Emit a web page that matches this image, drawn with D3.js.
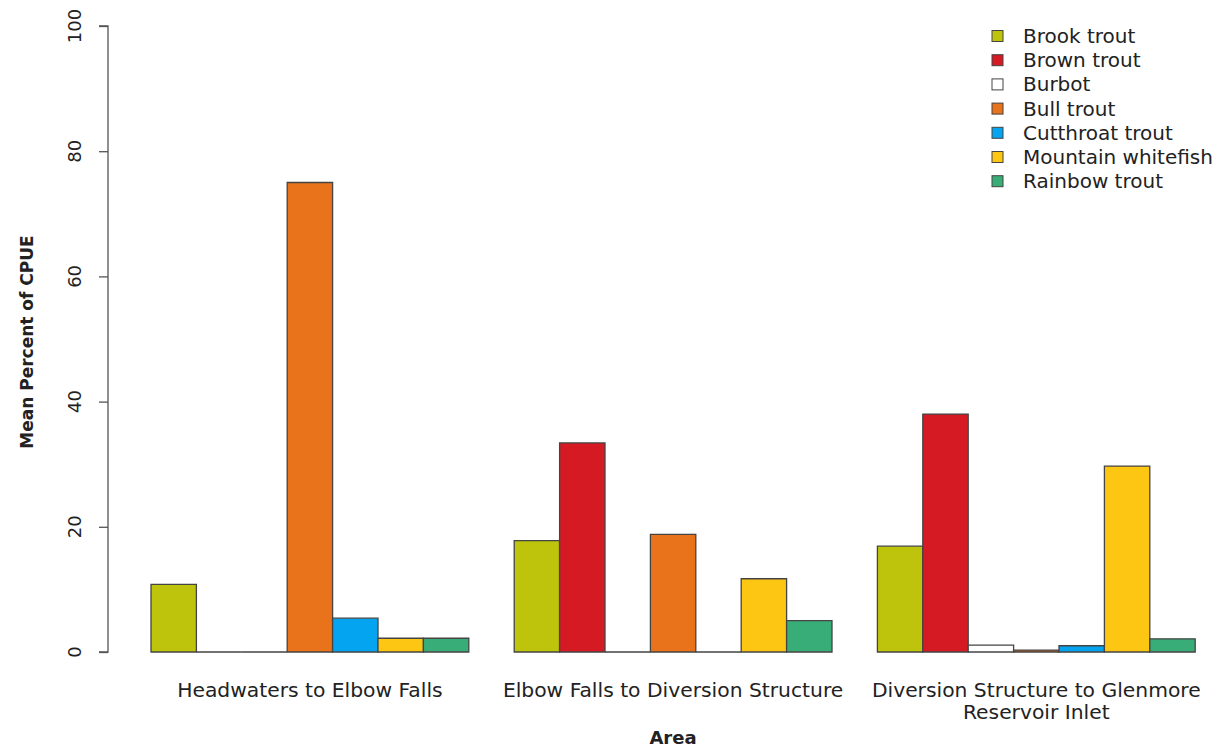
<!DOCTYPE html>
<html>
<head>
<meta charset="utf-8">
<script src="https://cdn.jsdelivr.net/npm/d3@7.9.0/dist/d3.min.js"></script>
<style>
  body { margin: 0; background: #fff; }
  svg { display: block; }
  text { font-family: "DejaVu Sans", sans-serif; fill: #222; }
</style>
</head>
<body>
<svg width="1221" height="749"></svg>
<script>
const areas = ["Headwaters to Elbow Falls", "Elbow Falls to Diversion Structure", "Diversion Structure to Glenmore\nReservoir Inlet"];
const species = ["Brook trout", "Brown trout", "Burbot", "Bull trout", "Cutthroat trout", "Mountain whitefish", "Rainbow trout"];
const colors = ["#bdc40b", "#d51a24", "#ffffff", "#e8731a", "#05a4f0", "#fcc612", "#38ad78"];
// mean percent of CPUE, one array per area, in species order
const headwaters = [10.8, 0, 0, 75, 5.4, 2.2, 2.2];
const elbowFalls = [17.8, 33.4, 0, 18.8, 0, 11.7, 5.0];
const diversion = [16.9, 38.0, 1.1, 0.3, 1.0, 29.7, 2.1];
const yTicks = [0, 20, 40, 60, 80, 100];

const values = [headwaters, elbowFalls, diversion];
const svg = d3.select("svg");

// R barplot beside=TRUE layout: one empty slot before each group
const slots = areas.length * (species.length + 1);
const x = d3.scaleLinear().domain([0, slots]).range([105.6, 105.6 + slots * 45.4]);
const y = d3.scaleLinear().domain([0, 100]).range([652, 26]);

values.forEach((vals, g) => {
  const start = g * (species.length + 1) + 1;
  vals.forEach((v, i) => {
    const x0 = x(start + i), x1 = x(start + i + 1);
    // path so that zero-height bars still show their outline
    svg.append("path")
      .attr("d", `M${x0},${y(0)}V${y(v)}H${x1}V${y(0)}Z`)
      .attr("fill", colors[i])
      .attr("stroke", "#444")
      .attr("stroke-width", 1.3);
  });
  const cx = (x(start) + x(start + species.length)) / 2;
  const lines = areas[g].split("\n");
  lines.forEach((t, k) => {
    svg.append("text")
      .attr("x", cx).attr("y", 697 + k * 22)
      .attr("text-anchor", "middle")
      .attr("font-size", 20.3)
      .text(t);
  });
});

// y axis
const axis = svg.append("g").attr("transform", "translate(108,0)")
  .call(d3.axisLeft(y).tickValues(yTicks).tickSize(9).tickFormat(""));
axis.select(".domain").attr("stroke", "#555").attr("stroke-width", 1.3).attr("d", `M-9,${y(0)}H0V${y(100)}H-9`);
axis.selectAll(".tick line").attr("stroke", "#555").attr("stroke-width", 1.3);
yTicks.forEach(t => {
  svg.append("text")
    .attr("transform", `translate(81,${y(t)}) rotate(-90)`)
    .attr("text-anchor", "middle")
    .attr("font-size", 18)
    .attr("fill", "#333")
    .text(t);
});

svg.append("text")
  .attr("transform", `translate(33,${(y(0) + y(100)) / 2 + 3}) rotate(-90)`)
  .attr("text-anchor", "middle")
  .attr("font-size", 17)
  .attr("font-weight", "bold")
  .text("Mean Percent of CPUE");

svg.append("text")
  .attr("x", 673).attr("y", 744)
  .attr("text-anchor", "middle")
  .attr("font-size", 18)
  .attr("font-weight", "bold")
  .text("Area");

// legend
const legend = svg.append("g");
species.forEach((s, i) => {
  const ly = 36 + i * 24.2;
  legend.append("rect")
    .attr("x", 992).attr("y", ly - 5.5)
    .attr("width", 11).attr("height", 11)
    .attr("fill", colors[i]).attr("stroke", "#444").attr("stroke-width", 1);
  legend.append("text")
    .attr("x", 1023).attr("y", ly + 7)
    .attr("font-size", 20)
    .text(s);
});
</script>
</body>
</html>
